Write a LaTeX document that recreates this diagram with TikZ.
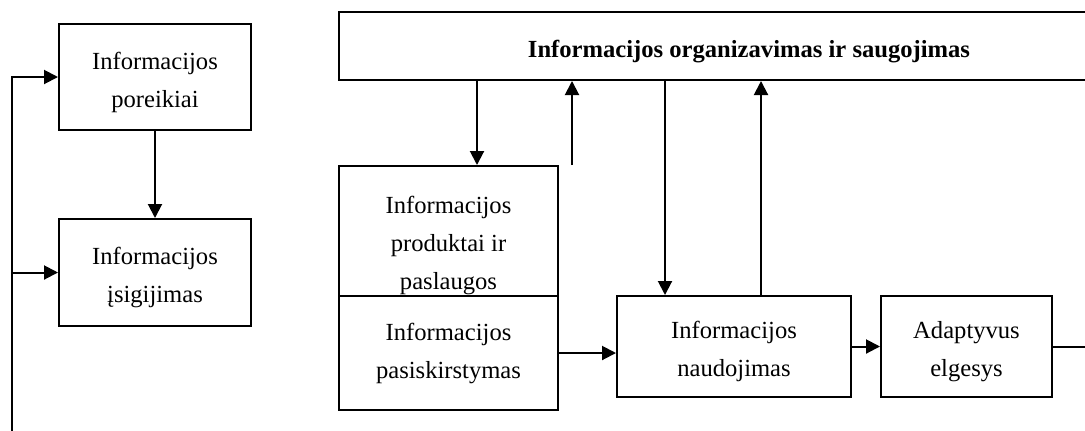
\documentclass[tikz,border=0pt]{standalone}
\usepackage{fontspec}
\setmainfont{Liberation Serif}
\usetikzlibrary{arrows.meta}

% pirmos eilutes atitraukimas nuo virsaus
\newcommand{\pak}{\rule{0pt}{14pt}}

\begin{document}
\begin{tikzpicture}[x=0.5pt, y=-0.5pt,
    blokas/.style={draw, rectangle, line width=1pt, align=center, inner sep=0pt, font=\fontsize{12.3}{19}\selectfont},
    rodykle/.style={line width=1pt, -{Triangle[length=7pt, width=7pt]}}]
    \useasboundingbox (0,0) rectangle (1085,430);

    %% ** blokai
    \draw
    (155,77)node[blokas, minimum width=96pt, minimum height=53pt](b0){\pak Informacijos\\poreikiai}
    (155,272.5)node[blokas, minimum width=96pt, minimum height=53.5pt](b1){\pak Informacijos\\įsigijimas}
    (749,46)node[blokas, minimum width=410pt, minimum height=34pt, font=\fontsize{12.3}{19}\selectfont\bfseries](b2){\pak Informacijos organizavimas ir saugojimas}
    (448.5,231)node[blokas, minimum width=109.5pt, minimum height=65pt](b3){}
    (b3.center)node[yshift=-7pt, align=center, inner sep=0pt, font=\fontsize{12.3}{19}\selectfont](b3t){Informacijos\\produktai ir\\paslaugos}
    (448.5,353)node[blokas, minimum width=109.5pt, minimum height=57pt](b4){Informacijos\\pasiskirstymas}
    (734,346.5)node[blokas, minimum width=117pt, minimum height=50.5pt](b5){\pak Informacijos\\naudojimas}
    (966.5,346.5)node[blokas, minimum width=85.5pt, minimum height=50.5pt](b6){\pak Adaptyvus\\elgesys}
    ;

    %% ** rodykles
    \draw[rodykle] (b0.south) -- (b1.north);
    \draw[rodykle] ([xshift=69.5pt]b2.south west) -- ([xshift=69.5pt]b3.north west);
    \draw[rodykle] ([xshift=117pt]b3.north west) -- ([xshift=117pt]b2.south west);
    \draw[rodykle] ([xshift=24.5pt]b5.north west |- b2.south) -- ([xshift=24.5pt]b5.north west);
    \draw[rodykle] ([xshift=72.5pt]b5.north west) -- ([xshift=72.5pt]b5.north west |- b2.south);
    \draw[rodykle] (b4.east) -- (b4.east -| b5.west);
    \draw[rodykle] (b5.east) -- (b6.west);

    % grizimas (uz paveikslo ribu)
    \coordinate (g0) at (1100,346.5);
    \coordinate (g1) at (11.5,445);
    \draw[line width=1pt] (b6.east) -- (g0);
    \draw[rodykle] (g1) |- (b0.west);
    \draw[rodykle] (g1 |- b1.west) -- (b1.west);
\end{tikzpicture}
\end{document}
